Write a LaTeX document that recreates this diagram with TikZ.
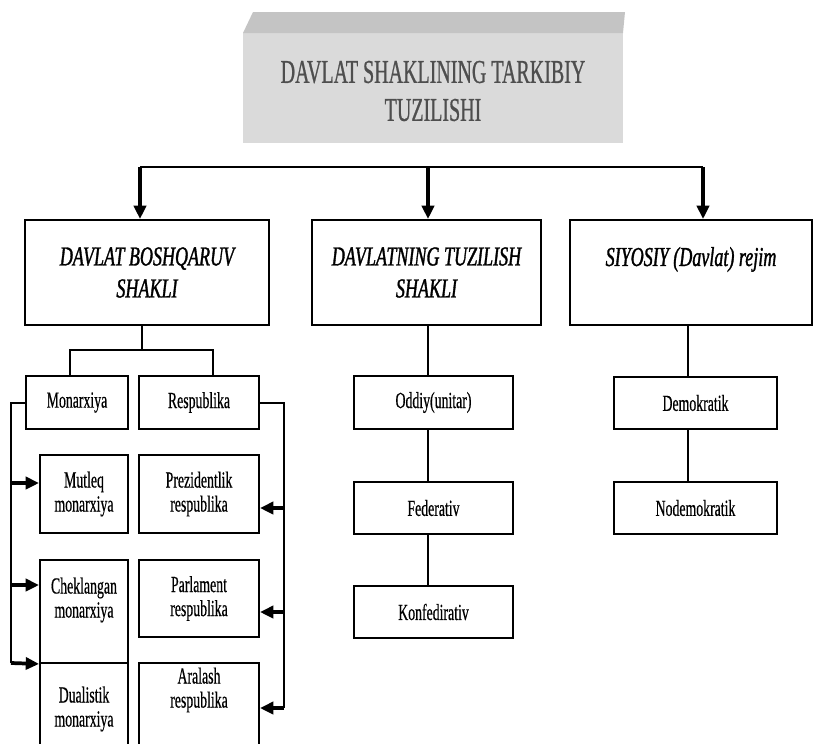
\documentclass[tikz,border=0pt]{standalone}
\usepackage{fontspec}
\setmainfont{Liberation Serif}
\newfontfamily\titlef{Liberation Serif}[FakeStretch=0.6,FakeBold=0.6]
\newfontfamily\headf{Liberation Serif}[FakeStretch=0.66,FakeBold=1.2]
\newfontfamily\smallf{Liberation Serif}[FakeStretch=0.6,FakeBold=0.5]
\usetikzlibrary{arrows.meta}
\definecolor{titlegray}{HTML}{4E4E4E}
\definecolor{bandgray}{HTML}{C4C4C4}
\definecolor{boxgray}{HTML}{DADADA}
\begin{document}
\begin{tikzpicture}[x=0.75pt,y=-0.75pt,
  box/.style 2 args={draw, line width=1.4pt, inner sep=0pt,
    minimum width=#1*0.75pt, minimum height=#2*0.75pt, align=center},
  head/.style={font=\headf\itshape\fontsize{20.5}{24}\selectfont},
  small/.style={font=\smallf\fontsize{17.25}{18}\selectfont, align=center},
  link/.style={line width=1.4pt},
  arr/.style={line width=2.8pt, -{Triangle[length=10pt,width=9pt]}},
]
\useasboundingbox (0,0) rectangle (813,743);
\clip (0,0) rectangle (813,743);

% title box
\fill[boxgray] (243,33) rectangle (623,143);
\fill[bandgray] (253,12) -- (625,12) -- (623,33) -- (243,33) -- cycle;
\node[font=\titlef\fontsize{25}{28.5}\selectfont, text=titlegray, align=center]
  (title) at (433,91) {DAVLAT SHAKLINING TARKIBIY\\TUZILISHI};

% main boxes
\node[box={244}{105}, head] (b1) at (147,272.5) {DAVLAT BOSHQARUV\\SHAKLI};
\node[box={229}{105}, head] (b2) at (426.5,272.5) {DAVLATNING TUZILISH\\SHAKLI};
\node[box={242}{105}, head] (b3) at (691,272.5) {SIYOSIY (Davlat) rejim\\\mbox{}};

\coordinate (hl) at (140,167);
\coordinate (hm) at (428,167);
\coordinate (hr) at (703,167);
\draw[link] (hl) -- (hr);
\draw[arr] (hl) -- (hl |- b1.north);
\draw[arr] (hm) -- (hm |- b2.north);
\draw[arr] (hr) -- (hr |- b3.north);

% left branch
\node[box={102}{53}, small] (mon) at (77,402.5) {Monarxiya};
\node[box={120}{53}, small] (res) at (199,402.5) {Respublika};
\coordinate (j1) at (142,350);
\coordinate (jl) at (70,350);
\coordinate (jr) at (213,350);
\draw[link] (j1 |- b1.south) -- (j1);
\draw[link] (jl |- mon.north) -- (jl) -- (jr) -- (jr |- res.north);

\node[box={88}{78}, small] (mut) at (84,494) {Mutleq\\monarxiya};
\node[box={88}{103}] (chk) at (84,611.5) {};
\node[small] (chkT) at (84,600) {Cheklangan\\monarxiya};
\node[box={88}{100}] (dua) at (84,713) {};
\node[small] (duaT) at (84,709) {Dualistik\\monarxiya};

\node[box={120}{78}, small] (pre) at (199,494) {Prezidentlik\\respublika};
\node[box={120}{77}, small] (par) at (199,598.5) {Parlament\\respublika};
\node[box={120}{100}] (ara) at (199,713) {};
\node[small] (araT) at (199,690) {Aralash\\respublika};

% left bracket
\coordinate (lt) at (11,403);
\coordinate (lb) at (11,663);
\coordinate (la1) at (11,483);
\coordinate (la2) at (11,585);
\draw[link] (mon.west |- lt) -- (lt) -- (lb);
\draw[arr] (la1) -- (la1 -| mut.west);
\draw[arr] (la2) -- (la2 -| chk.west);
\draw[arr] (lb) -- (chk.south west);

% right bracket
\coordinate (rt) at (284,403);
\coordinate (rb) at (284,708);
\coordinate (ra1) at (284,508);
\coordinate (ra2) at (284,612);
\draw[link] (res.east |- rt) -- (rt) -- (rb);
\draw[arr] (ra1) -- (ra1 -| pre.east);
\draw[arr] (ra2) -- (ra2 -| par.east);
\draw[arr] (rb) -- (rb -| ara.east);

% middle branch
\node[box={159}{53}, small] (odd) at (433.5,402.5) {Oddiy(unitar)};
\node[box={159}{52}, small] (fed) at (433.5,508) {Federativ};
\node[box={159}{52}, small] (kon) at (433.5,612) {Konfedirativ};
\coordinate (mv) at (428,0);
\draw[link] (mv |- b2.south) -- (mv |- odd.north);
\draw[link] (mv |- odd.south) -- (mv |- fed.north);
\draw[link] (mv |- fed.south) -- (mv |- kon.north);

% right branch
\node[box={163}{52}, small] (dem) at (695.5,403) {Demokratik};
\node[box={163}{52}, small] (nod) at (695.5,508) {Nodemokratik};
\coordinate (rv) at (688,0);
\draw[link] (rv |- b3.south) -- (rv |- dem.north);
\draw[link] (rv |- dem.south) -- (rv |- nod.north);
\end{tikzpicture}
\end{document}
